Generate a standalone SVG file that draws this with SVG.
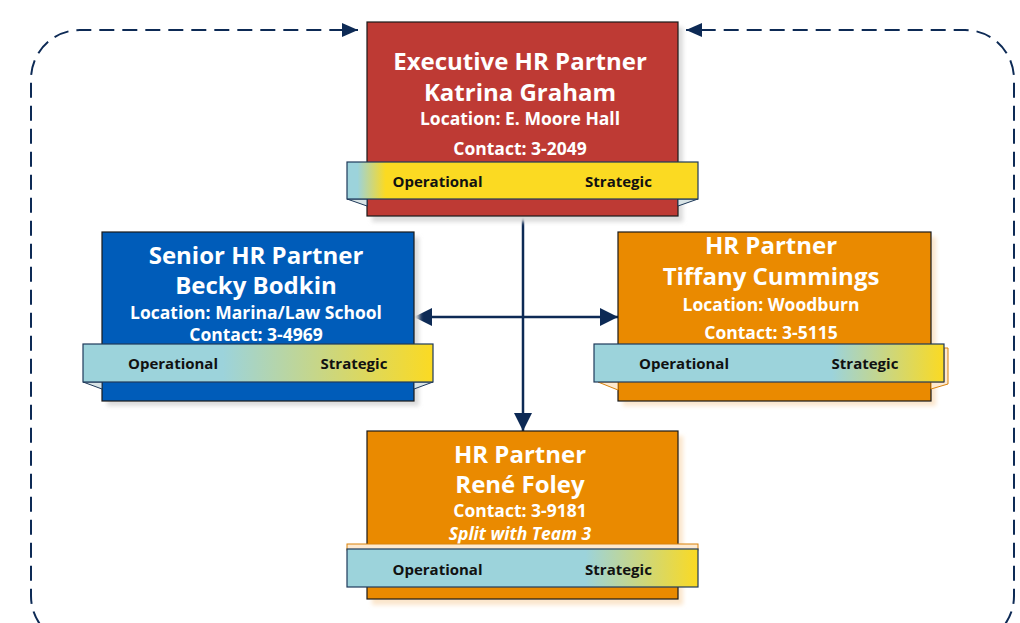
<svg xmlns="http://www.w3.org/2000/svg" width="1020" height="623" viewBox="0 0 1020 623">
<defs>
<style>
.box{stroke:#1a1a1a;stroke-width:1.2}
.t1{font-family:"Open Sans","DejaVu Sans",sans-serif;font-weight:bold;font-size:24px;fill:#fff;text-anchor:middle}
.t2{font-family:"Open Sans","DejaVu Sans",sans-serif;font-weight:bold;font-size:17.5px;fill:#fff;text-anchor:middle}
.ti{font-style:italic}
.bt{font-family:"Open Sans","DejaVu Sans",sans-serif;font-weight:bold;font-size:15px;fill:#111;text-anchor:middle}
.ban{stroke:#1f3a5a;stroke-width:1.2}
.tab{fill:#d9e4e6;stroke:#1f3a5a;stroke-width:1}
.tabo{fill:#fde9cf;stroke:#d9820a;stroke-width:1}
.conn{stroke:#0d2a55;stroke-width:2.5;fill:none}
.dash{stroke:#0d2a55;stroke-width:2;fill:none;stroke-dasharray:15 8}
.shg{fill:#dcdcdc}
.sho{fill:#fbe6cc}
</style>
<linearGradient id="gTop" x1="0" y1="0" x2="1" y2="0">
<stop offset="0" stop-color="#9cd3db"/><stop offset="0.03" stop-color="#9cd3db"/><stop offset="0.11" stop-color="#fbda22"/><stop offset="1" stop-color="#fbda22"/>
</linearGradient>
<linearGradient id="gLeft" x1="0" y1="0" x2="1" y2="0">
<stop offset="0" stop-color="#9cd3db"/><stop offset="0.4" stop-color="#9cd3db"/><stop offset="1" stop-color="#fbda22"/>
</linearGradient>
<linearGradient id="gRight" x1="0" y1="0" x2="1" y2="0">
<stop offset="0" stop-color="#9cd3db"/><stop offset="0.68" stop-color="#9cd3db"/><stop offset="1" stop-color="#fbda22"/>
</linearGradient>
<filter id="blur" x="-10%" y="-10%" width="120%" height="120%"><feGaussianBlur stdDeviation="2"/></filter>
<marker id="ah" viewBox="0 0 18 18" refX="18" refY="9" markerWidth="18" markerHeight="18" markerUnits="userSpaceOnUse" orient="auto-start-reverse">
<path d="M0,0 L18,9 L0,18 Z" fill="#0d2a55"/>
</marker>
<marker id="ahd" viewBox="0 0 16 14" refX="16" refY="7" markerWidth="16" markerHeight="14" markerUnits="userSpaceOnUse" orient="auto">
<path d="M0,0 L16,7 L0,14 Z" fill="#0d2a55"/>
</marker>
</defs>
<rect width="1020" height="623" fill="#fff"/>

<g id="connectors">
<path class="dash" d="M 80 645 A 49 49 0 0 1 31 596 L 31 79 A 49 49 0 0 1 80 30 L 358 30" marker-end="url(#ahd)"/>
<path class="dash" d="M 965 645 A 49 49 0 0 0 1014 596 L 1014 79 A 49 49 0 0 0 965 30 L 686 30" marker-end="url(#ahd)"/>
<path class="conn" d="M 523 216 L 523 431" marker-end="url(#ah)"/>
<path class="conn" d="M 414 317 L 618 317" marker-start="url(#ah)" marker-end="url(#ah)"/>
</g>

<g id="node-exec">
<rect class="shg" x="372" y="27" width="311" height="195" filter="url(#blur)"/>
<rect class="box" x="367" y="22" width="311" height="194" fill="#be3a34"/>
<text class="t1" x="520" y="70">Executive HR Partner</text>
<text class="t1" x="520" y="101">Katrina Graham</text>
<text class="t2" x="520" y="125">Location: E. Moore Hall</text>
<text class="t2" x="520" y="155">Contact: 3-2049</text>
<polygon class="tab" points="347,199 367,199 367,206"/>
<polygon class="tab" points="698,199 678,199 678,206"/>
<rect class="ban" x="347" y="162" width="351" height="37" fill="url(#gTop)"/>
<text class="bt" x="437.5" y="187">Operational</text>
<text class="bt" x="618.5" y="187">Strategic</text>
</g>

<g id="node-senior">
<rect class="shg" x="107" y="237" width="312" height="169" filter="url(#blur)"/>
<rect class="box" x="102" y="232" width="312" height="169" fill="#005cb9"/>
<text class="t1" x="256" y="264">Senior HR Partner</text>
<text class="t1" x="256" y="294">Becky Bodkin</text>
<text class="t2" x="256" y="319">Location: Marina/Law School</text>
<text class="t2" x="256" y="341">Contact: 3-4969</text>
<polygon class="tab" points="83,382 102,382 102,389"/>
<polygon class="tab" points="433,382 414,382 414,389"/>
<rect class="ban" x="83" y="344" width="350" height="38" fill="url(#gLeft)"/>
<text class="bt" x="173" y="369">Operational</text>
<text class="bt" x="354" y="369">Strategic</text>
</g>

<g id="node-tiffany">
<rect class="sho" x="623" y="237" width="313" height="169" filter="url(#blur)"/>
<rect class="box" x="618" y="232" width="313" height="169" fill="#ea8a00"/>
<text class="t1" x="771" y="254">HR Partner</text>
<text class="t1" x="771" y="285">Tiffany Cummings</text>
<text class="t2" x="771" y="311">Location: Woodburn</text>
<text class="t2" x="771" y="339">Contact: 3-5115</text>
<polygon class="tabo" points="598,382 618,382 618,390"/>
<polygon class="tabo" points="944,348 948,348 948,384 931,389 931,382 944,382"/>
<rect class="ban" x="594" y="344" width="350" height="38" fill="url(#gRight)"/>
<text class="bt" x="684" y="369">Operational</text>
<text class="bt" x="865" y="369">Strategic</text>
</g>

<g id="node-rene">
<rect class="sho" x="372" y="436" width="311" height="169" filter="url(#blur)"/>
<rect class="box" x="367" y="431" width="311" height="168" fill="#ea8a00"/>
<text class="t1" x="520" y="463">HR Partner</text>
<text class="t1" x="520" y="493">René Foley</text>
<text class="t2" x="520" y="517">Contact: 3-9181</text>
<text class="t2 ti" x="520" y="540">Split with Team 3</text>
<rect class="tabo" x="347" y="544" width="351" height="6" fill="#fff6ea"/>
<rect class="ban" x="347" y="549" width="351" height="38" fill="url(#gRight)"/>
<text class="bt" x="437.5" y="575">Operational</text>
<text class="bt" x="618.5" y="575">Strategic</text>
</g>
</svg>
